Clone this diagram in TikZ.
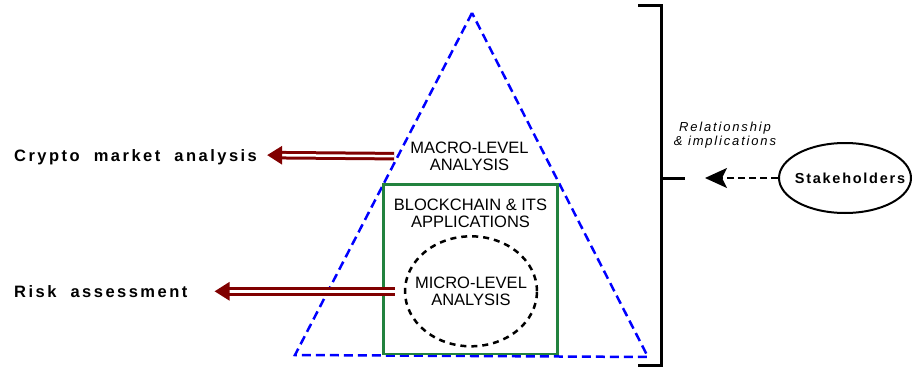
\documentclass[tikz,border=0pt]{standalone}
\usepackage{fontspec}
\setmainfont{Liberation Sans}
\newfontfamily\spacedfont[LetterSpace=15,WordSpace=2]{Liberation Sans}
\newfontfamily\stakefont[LetterSpace=12]{Liberation Sans}
\newfontfamily\itspacedfont[LetterSpace=14]{Liberation Sans}
\usetikzlibrary{arrows.meta,shapes.geometric}
\definecolor{darkred}{RGB}{128,0,0}
\definecolor{boxgreen}{RGB}{34,130,62}

\begin{document}
\begin{tikzpicture}[x=1pt,y=-1pt]
    \tikzstyle{lbl}=[inner sep=0pt,align=center,font=\fontsize{16.5}{17.5}\selectfont]
    \tikzstyle{side}=[inner sep=0pt,anchor=base west,text height=12pt,text depth=0pt,font={\spacedfont\fontsize{16.5}{18}\selectfont\bfseries}]
    \tikzstyle{redarrow}=[draw=darkred,double=white,double distance=2.5pt,line width=3pt,-{Triangle[length=15pt,width=18pt]}]
    \useasboundingbox (0,0) rectangle (913,369);
    % pyramid and the boxes inside it
    \coordinate (apex) at (472,13);
    \coordinate (left) at (295,355);
    \coordinate (right) at (648,357);
    \draw[blue,line width=2.5pt,dash pattern=on 9pt off 5pt] (apex) -- (left) -- (right) -- cycle;
    \draw[boxgreen,line width=2.5pt] (383.5,184.5) rectangle (557.5,354);
    \draw (469.5,156.3) node[lbl] (macro) {MACRO-LEVEL\\ANALYSIS};
    \draw (470.5,213.3) node[lbl] (chain) {BLOCKCHAIN \& ITS\\APPLICATIONS};
    \draw (471,291.3) node[ellipse,draw,line width=2.5pt,dash pattern=on 6pt off 5pt,inner sep=0pt,minimum width=132pt,minimum height=110pt] (micro) {};
    \draw (micro.center) node[lbl] (microtxt) {MICRO-LEVEL\\ANALYSIS};
    % outputs on the left
    \draw (14,161) node[side] (crypto) {Crypto market analysis};
    \draw (14,297.3) node[side] (risk) {Risk assessment};
    \draw[redarrow,shorten <=16pt,shorten >=10pt] (macro.west) -- (crypto.east);
    \draw[redarrow,shorten <=9pt,shorten >=27pt] (micro.west) -- (risk.east);
    % bracket and stakeholders
    \coordinate (btop) at (638,6);
    \coordinate (bbot) at (638,365);
    \coordinate (bmid) at (661,178);
    \coordinate (bin) at (705,178);
    \draw[line width=3pt] (btop) -- (btop -| bmid) -- (bbot -| bmid) -- (bbot);
    \draw[line width=3pt] (bmid) -- ++(24,0);
    \draw (725,135) node[align=center,inner sep=0pt,font={\itspacedfont\fontsize{13}{14}\selectfont\itshape}] (rel) {Relationship\\\& implications};
    \draw (845,178) node[ellipse,draw,line width=2pt,minimum width=132pt,minimum height=70pt,inner sep=0pt] (stake) {};
    \draw (850,178) node[inner sep=0pt,font={\stakefont\fontsize{14.5}{16}\selectfont\bfseries}] (staketxt) {Stakeholders};
    \draw[line width=1.8pt,dash pattern=on 7pt off 4pt,-{Stealth[length=22pt,width=20pt,inset=5pt]}] (stake) -- (bin);
\end{tikzpicture}
\end{document}
